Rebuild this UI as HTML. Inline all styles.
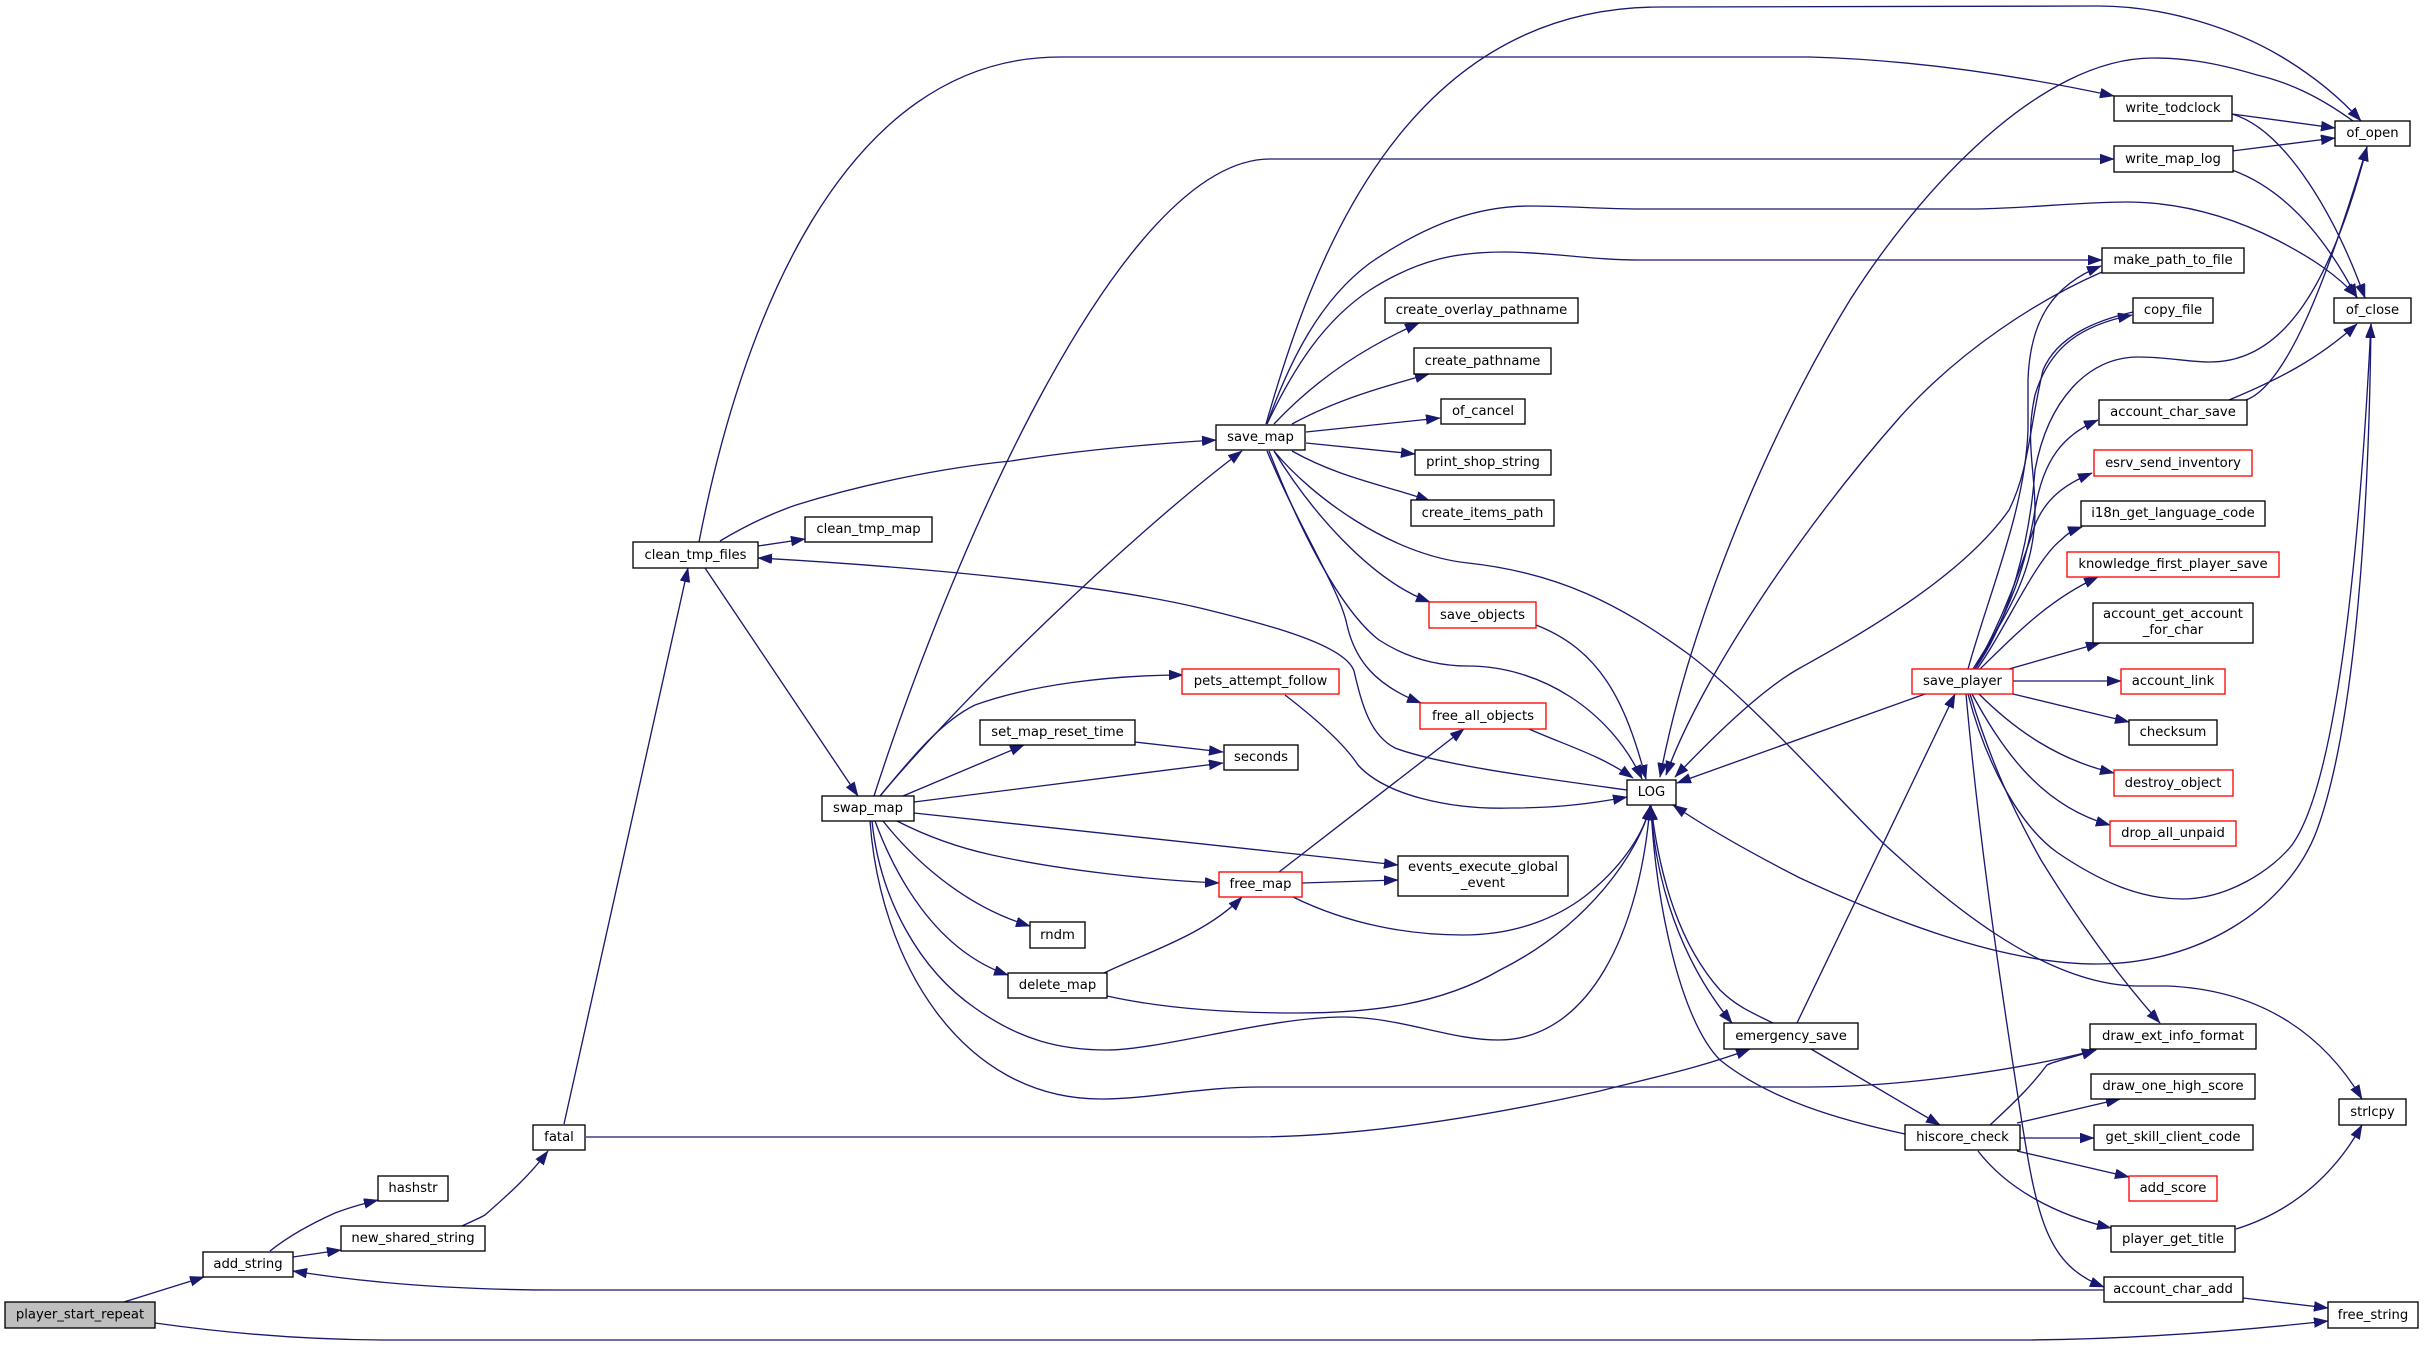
<!DOCTYPE html>
<html><head><meta charset="utf-8"><style>
html,body{margin:0;padding:0;background:#fff}
svg{display:block}
.e path{fill:none;stroke:#191970;stroke-width:1.33;marker-end:url(#a)}
.n rect{fill:#fff;stroke:#000;stroke-width:1.33}
.n rect.r{stroke:#f00}
.n rect.g{fill:#bfbfbf}
text{font-family:"DejaVu Sans",sans-serif;font-size:13.2px;fill:#000;text-anchor:middle;transform:translateY(-1px)}
</style></head><body>
<svg width="2424" height="1346" viewBox="0 0 2424 1346" xmlns="http://www.w3.org/2000/svg">
<defs><marker id="a" markerUnits="userSpaceOnUse" markerWidth="15" markerHeight="11" refX="14" refY="5" orient="auto"><path d="M0 0L14 5L0 10Z" fill="#191970" stroke="#191970" stroke-width="0.5"/></marker></defs>
<g class="e">
<path d="M124 1302L204 1277"/>
<path d="M270 1251C290 1235 315 1222 335 1213C348 1208 362 1204 378 1200"/>
<path d="M293 1257L341 1250"/>
<path d="M462 1226C470 1222 478 1219 485 1215C510 1193 530 1175 548 1151"/>
<path d="M564 1124L688 568"/>
<path d="M586 1137L1250 1137C1350 1137 1470 1120 1600 1091C1650 1078 1700 1068 1750 1049"/>
<path d="M699 542C740 330 840 57 1060 57L1810 57C1920 60 2030 78 2114 96"/>
<path d="M758 546L805 539"/>
<path d="M720 541C745 526 770 514 796 505C860 485 940 468 1011 461C1080 450 1150 444 1216 440"/>
<path d="M705 568L858 796"/>
<path d="M1627 790C1540 778 1440 765 1395 748C1370 735 1362 705 1354 671C1345 645 1270 625 1200 608C1090 582 900 566 758 558"/>
<path d="M874 796C950 560 1120 159 1270 159L2114 159"/>
<path d="M880 796C960 700 1130 535 1242 451"/>
<path d="M880 796C910 760 940 722 975 705C1030 685 1110 675 1183 675"/>
<path d="M903 796L1024 745"/>
<path d="M914 802L1223 763"/>
<path d="M1135 742L1223 752"/>
<path d="M914 813L1398 865"/>
<path d="M897 821C930 838 960 848 992 855C1060 870 1150 880 1219 883"/>
<path d="M883 821C910 855 960 905 1030 926"/>
<path d="M875 821C895 875 935 950 1008 975"/>
<path d="M872 821C880 900 920 970 975 1008C1020 1040 1060 1050 1107 1050C1160 1050 1270 1017 1343 1017C1400 1017 1450 1040 1498 1040C1590 1040 1640 930 1650 806"/>
<path d="M870 821C880 960 960 1099 1101 1099C1150 1099 1200 1087 1260 1087L1810 1087C1900 1087 2020 1070 2096 1050"/>
<path d="M1104 973C1145 953 1205 935 1242 897"/>
<path d="M1107 996C1170 1010 1240 1013 1297 1013C1370 1013 1440 1005 1500 970C1590 925 1640 850 1650 806"/>
<path d="M1302 883L1398 880"/>
<path d="M1279 872L1464 729"/>
<path d="M1293 897C1350 925 1410 935 1463 935C1520 935 1560 915 1584 897C1625 865 1645 830 1650 806"/>
<path d="M1285 695C1320 722 1345 745 1358 765C1385 795 1450 810 1512 808C1555 808 1590 804 1627 797"/>
<path d="M1536 625C1600 650 1625 700 1646 779"/>
<path d="M1529 729C1565 745 1600 755 1633 778"/>
<path d="M1269 451C1300 530 1340 610 1379 640C1410 660 1440 666 1468 666C1540 666 1610 710 1642 779"/>
<path d="M1267 451C1300 530 1340 590 1347 625C1355 660 1375 685 1421 703"/>
<path d="M1274 451C1310 510 1370 580 1430 602"/>
<path d="M1292 451C1340 478 1385 485 1430 501"/>
<path d="M1306 443L1415 454"/>
<path d="M1306 432L1440 418"/>
<path d="M1292 424C1340 398 1390 385 1429 374"/>
<path d="M1274 424C1320 375 1370 345 1419 323"/>
<path d="M1267 424C1295 365 1325 320 1370 290C1420 258 1460 252 1504 252C1550 252 1590 260 1640 260L2102 260"/>
<path d="M1267 424C1290 360 1320 300 1370 263C1430 222 1480 206 1530 206C1570 206 1600 209 1640 209L1970 209C2020 209 2078 202 2126 202C2178 202 2228 215 2277 240C2312 258 2337 275 2357 297"/>
<path d="M1266 424C1310 270 1400 7 1660 7L2098 6C2168 6 2237 30 2282 57C2317 78 2342 100 2361 121"/>
<path d="M1274 451C1310 495 1390 555 1468 563C1560 573 1620 605 1687 653C1750 700 1830 790 1883 843C1940 895 2040 985 2138 986L2167 986C2267 990 2327 1040 2362 1099"/>
<path d="M1651 806C1655 880 1680 960 1732 1023"/>
<path d="M1773 1023C1750 1012 1735 1005 1720 990C1680 945 1660 880 1651 806"/>
<path d="M1797 1023L1955 694"/>
<path d="M1811 1049L1940 1125"/>
<path d="M1905 1134C1840 1120 1770 1100 1720 1060C1680 1020 1655 900 1651 806"/>
<path d="M1925 694L1677 783"/>
<path d="M2371 324C2369 500 2357 720 2317 830C2287 910 2197 964 2097 964C1997 964 1880 915 1800 878C1755 855 1710 830 1673 805"/>
<path d="M1968 694C1985 760 2018 825 2058 853C2098 880 2138 899 2182 899C2228 899 2272 870 2292 845C2342 775 2362 500 2371 324"/>
<path d="M2353 121C2317 95 2287 82 2257 75C2207 60 2177 58 2153 58C2040 58 1920 190 1850 300C1770 430 1690 620 1660 777"/>
<path d="M2102 272C2038 300 1960 350 1900 417C1800 530 1700 680 1666 775"/>
<path d="M2133 312C2098 320 2058 335 2043 370C2029 430 2029 470 2009 510C1960 580 1850 640 1800 668C1760 690 1710 740 1675 777"/>
<path d="M2232 114L2335 128"/>
<path d="M2232 114C2287 130 2337 220 2365 298"/>
<path d="M2232 151L2335 138"/>
<path d="M2232 170C2287 190 2327 240 2357 298"/>
<path d="M2229 400C2277 380 2317 360 2357 324"/>
<path d="M2246 400C2287 385 2327 280 2367 147"/>
<path d="M1975 669C2010 620 2030 540 2035 470C2048 400 2088 357 2138 357C2168 357 2188 362 2210 362C2277 362 2327 300 2367 147"/>
<path d="M1973 669C2010 610 2035 570 2035 510C2035 470 2025 440 2035 395C2050 345 2083 325 2132 315"/>
<path d="M1968 669C1990 590 2025 510 2028 430L2028 380C2030 320 2053 285 2101 266"/>
<path d="M1975 669C2010 610 2025 570 2035 510C2043 460 2063 435 2098 420"/>
<path d="M1975 669C2005 615 2020 570 2035 525C2045 500 2063 485 2092 473"/>
<path d="M1977 669C2005 630 2035 560 2061 540C2068 533 2073 530 2082 527"/>
<path d="M1980 669C2015 635 2048 600 2098 577"/>
<path d="M2009 669L2100 643"/>
<path d="M2013 681L2121 681"/>
<path d="M2013 694L2129 722"/>
<path d="M1979 694C2015 730 2058 760 2114 773"/>
<path d="M1972 694C2000 745 2038 805 2110 825"/>
<path d="M1970 694C1990 760 2013 810 2041 860C2078 920 2117 975 2160 1023"/>
<path d="M1966 694C1980 850 2003 1000 2020 1110C2037 1220 2047 1265 2104 1287"/>
<path d="M1990 1125C2017 1100 2032 1085 2047 1065C2057 1060 2072 1058 2096 1050"/>
<path d="M2017 1123L2120 1099"/>
<path d="M2020 1138L2094 1138"/>
<path d="M2017 1151L2129 1177"/>
<path d="M1978 1151C2008 1190 2057 1215 2111 1228"/>
<path d="M2236 1229C2297 1210 2337 1170 2362 1125"/>
<path d="M2104 1290L560 1290C470 1290 380 1285 293 1271"/>
<path d="M2243 1298L2328 1308"/>
<path d="M155 1323C240 1335 320 1340 388 1340L2012 1340C2120 1340 2228 1332 2328 1321"/>
</g>
<g class="n">
<rect class="g" x="5" y="1302" width="150" height="26"/><text x="80" y="1319.500">player_start_repeat</text>
<rect x="203" y="1252" width="90" height="25"/><text x="248" y="1269">add_string</text>
<rect x="378" y="1176" width="70" height="25"/><text x="413" y="1193">hashstr</text>
<rect x="341" y="1226" width="144" height="25"/><text x="413" y="1243">new_shared_string</text>
<rect x="533" y="1125" width="52" height="25"/><text x="559" y="1142">fatal</text>
<rect x="633" y="542" width="125" height="26"/><text x="695.500" y="560">clean_tmp_files</text>
<rect x="805" y="517" width="127" height="25"/><text x="868.500" y="534">clean_tmp_map</text>
<rect x="1216" y="425" width="89" height="25"/><text x="1260.500" y="442">save_map</text>
<rect x="1385" y="298" width="193" height="25"/><text x="1481.500" y="315">create_overlay_pathname</text>
<rect x="1414" y="348" width="137" height="26"/><text x="1482.500" y="366">create_pathname</text>
<rect x="1441" y="399" width="84" height="25"/><text x="1483" y="416">of_cancel</text>
<rect x="1415" y="450" width="136" height="25"/><text x="1483" y="467">print_shop_string</text>
<rect x="1411" y="500" width="143" height="26"/><text x="1482.500" y="518">create_items_path</text>
<rect class="r" x="1429" y="602" width="107" height="26"/><text x="1482.500" y="620">save_objects</text>
<rect class="r" x="1182" y="669" width="157" height="25"/><text x="1260.500" y="686">pets_attempt_follow</text>
<rect class="r" x="1420" y="703" width="126" height="26"/><text x="1483" y="721">free_all_objects</text>
<rect x="980" y="720" width="155" height="25"/><text x="1057.500" y="737">set_map_reset_time</text>
<rect x="1224" y="745" width="74" height="25"/><text x="1261" y="762">seconds</text>
<rect x="1627" y="780" width="49" height="25"/><text x="1651.500" y="797">LOG</text>
<rect x="822" y="796" width="92" height="25"/><text x="868" y="813">swap_map</text>
<rect x="1398" y="856" width="170" height="40"/><text x="1483" y="872">events_execute_global</text><text x="1483" y="888">_event</text>
<rect class="r" x="1219" y="872" width="83" height="25"/><text x="1260.500" y="889">free_map</text>
<rect x="1030" y="922" width="55" height="26"/><text x="1057.500" y="940">rndm</text>
<rect x="1008" y="973" width="99" height="25"/><text x="1057.500" y="990">delete_map</text>
<rect x="1724" y="1023" width="134" height="26"/><text x="1791" y="1041">emergency_save</text>
<rect class="r" x="1912" y="669" width="101" height="25"/><text x="1962.500" y="686">save_player</text>
<rect x="1905" y="1125" width="115" height="25"/><text x="1962.500" y="1142">hiscore_check</text>
<rect x="2114" y="96" width="118" height="25"/><text x="2173" y="113">write_todclock</text>
<rect x="2114" y="146" width="119" height="26"/><text x="2173" y="164">write_map_log</text>
<rect x="2335" y="121" width="75" height="25"/><text x="2372.500" y="138">of_open</text>
<rect x="2102" y="248" width="142" height="25"/><text x="2173" y="265">make_path_to_file</text>
<rect x="2133" y="298" width="80" height="25"/><text x="2173" y="315">copy_file</text>
<rect x="2334" y="298" width="77" height="25"/><text x="2372.500" y="315">of_close</text>
<rect x="2099" y="400" width="148" height="25"/><text x="2173" y="417">account_char_save</text>
<rect class="r" x="2094" y="450" width="158" height="26"/><text x="2173" y="468">esrv_send_inventory</text>
<rect x="2081" y="501" width="184" height="25"/><text x="2173" y="518">i18n_get_language_code</text>
<rect class="r" x="2067" y="552" width="212" height="25"/><text x="2173" y="569">knowledge_first_player_save</text>
<rect x="2093" y="603" width="160" height="40"/><text x="2173" y="619">account_get_account</text><text x="2173" y="635">_for_char</text>
<rect class="r" x="2121" y="669" width="104" height="25"/><text x="2173" y="686">account_link</text>
<rect x="2129" y="720" width="88" height="25"/><text x="2173" y="737">checksum</text>
<rect class="r" x="2114" y="770" width="119" height="26"/><text x="2173" y="788">destroy_object</text>
<rect class="r" x="2110" y="821" width="126" height="25"/><text x="2173" y="838">drop_all_unpaid</text>
<rect x="2090" y="1024" width="166" height="25"/><text x="2173" y="1041">draw_ext_info_format</text>
<rect x="2091" y="1074" width="164" height="25"/><text x="2173" y="1091">draw_one_high_score</text>
<rect x="2094" y="1125" width="159" height="25"/><text x="2173" y="1142">get_skill_client_code</text>
<rect class="r" x="2129" y="1176" width="88" height="25"/><text x="2173" y="1193">add_score</text>
<rect x="2111" y="1226" width="124" height="26"/><text x="2173" y="1244">player_get_title</text>
<rect x="2104" y="1277" width="139" height="25"/><text x="2173" y="1294">account_char_add</text>
<rect x="2339" y="1099" width="67" height="26"/><text x="2372.500" y="1117">strlcpy</text>
<rect x="2328" y="1302" width="90" height="26"/><text x="2373" y="1320">free_string</text>
</g>
</svg>
</body></html>
